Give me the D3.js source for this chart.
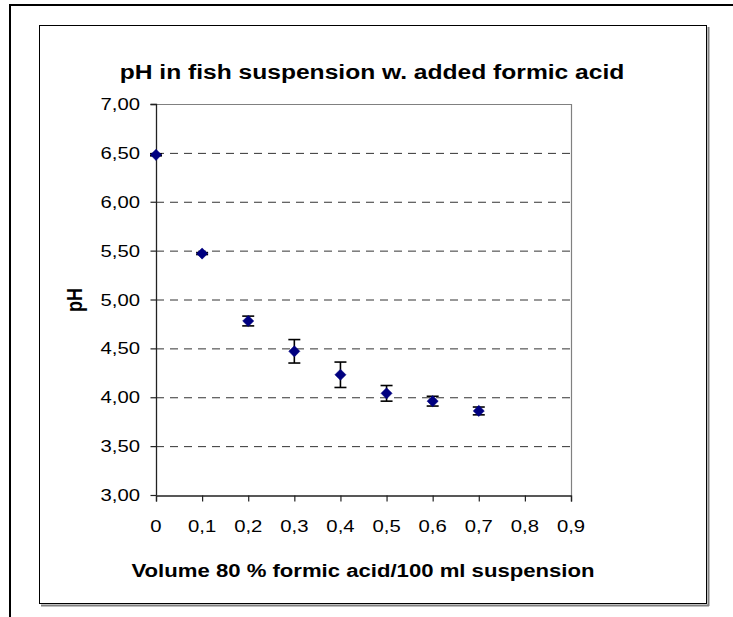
<!DOCTYPE html>
<html>
<head>
<meta charset="utf-8">
<script src="https://cdn.jsdelivr.net/npm/d3@7"></script>
<style>
  html, body { margin: 0; padding: 0; background: #fff; }
  svg { display: block; }
  text { font-family: "Liberation Sans", Arial, sans-serif; fill: #000; }
</style>
</head>
<body>
<script>
// ---- data ----
const volumes = [0, 0.1, 0.2, 0.3, 0.4, 0.5, 0.6, 0.7];
const phMeans = [6.48, 5.47, 4.78, 4.47, 4.23, 4.04, 3.96, 3.86];
const phErrors = [0.01, 0.01, 0.05, 0.12, 0.13, 0.08, 0.05, 0.04];
const xTickValues = [0, 0.1, 0.2, 0.3, 0.4, 0.5, 0.6, 0.7, 0.8, 0.9];
const yTickValues = [3, 3.5, 4, 4.5, 5, 5.5, 6, 6.5, 7];
const titleText = "pH in fish suspension w. added formic acid";
const xTitleText = "Volume 80 % formic acid/100 ml suspension";
const yTitleText = "pH";

// ---- layout ----
const W = 733, H = 617;
const SX = 1.23; // horizontal text stretch of the original picture
const plot = { left: 156, top: 104, right: 571, bottom: 495 };

const svg = d3.select("body").append("svg").attr("width", W).attr("height", H);
svg.append("rect").attr("width", W).attr("height", H).attr("fill", "#fff");

// outer frame (top + left visible)
svg.append("line").attr("x1", 10).attr("x2", W).attr("y1", 5).attr("y2", 5)
  .attr("stroke", "#000").attr("stroke-width", 2);
svg.append("line").attr("x1", 10).attr("x2", 10).attr("y1", 4).attr("y2", H)
  .attr("stroke", "#000").attr("stroke-width", 2);

// inner chart frame with shadow
svg.append("line").attr("x1", 708.5).attr("x2", 708.5).attr("y1", 27).attr("y2", 606)
  .attr("stroke", "#808080").attr("stroke-width", 2);
svg.append("line").attr("x1", 41).attr("x2", 709).attr("y1", 605.5).attr("y2", 605.5)
  .attr("stroke", "#808080").attr("stroke-width", 2);
svg.append("rect").attr("x", 39.5).attr("y", 25.5).attr("width", 667).attr("height", 578)
  .attr("fill", "#fff").attr("stroke", "#000").attr("stroke-width", 1);

const x = d3.scaleLinear().domain([0, 0.9]).range([plot.left, plot.right]);
const y = d3.scaleLinear().domain([3, 7]).range([plot.bottom, plot.top]);

const fmt = v => v === 0 ? "0" : d3.format(".1f")(v).replace(".", ",");
const fmtY = v => d3.format(".2f")(v).replace(".", ",");

function stretchedText(g, tx, ty, str, opts) {
  return g.append("text")
    .attr("transform", `translate(${tx},${ty}) scale(${SX},1)`)
    .attr("text-anchor", opts.anchor || "middle")
    .attr("font-size", opts.size)
    .attr("font-weight", opts.weight || "normal")
    .text(str);
}

// title
stretchedText(svg, 372, 79, titleText, { size: 20, weight: "bold" });

// gridlines
svg.append("g").selectAll("line").data(yTickValues.filter(v => v > 3 && v < 7)).join("line")
  .attr("x1", plot.left).attr("x2", plot.right)
  .attr("y1", d => y(d) + 0.5).attr("y2", d => y(d) + 0.5)
  .attr("stroke", "#333").attr("stroke-width", 1).attr("stroke-dasharray", "8,6");

// plot area border (top & right gray)
svg.append("path")
  .attr("d", `M${plot.left},${plot.top + 0.5}H${plot.right + 0.5}V${plot.bottom}`)
  .attr("fill", "none").attr("stroke", "#808080").attr("stroke-width", 1.2);

// axes
const yAxis = d3.axisLeft(y).tickValues(yTickValues).tickSize(6).tickFormat("");
const xAxis = d3.axisBottom(x).tickValues(xTickValues).tickSize(6).tickFormat("");
const gy = svg.append("g").attr("transform", `translate(${plot.left + 0.5},0)`).call(yAxis);
const gx = svg.append("g").attr("transform", `translate(0,${plot.bottom + 0.5})`).call(xAxis);
[gx, gy].forEach(g => {
  g.select(".domain").attr("stroke", "#222").attr("stroke-width", 1.3);
  g.selectAll(".tick line").attr("stroke", "#222").attr("stroke-width", 1.2);
});
gy.selectAll(".domain").attr("d", `M-6,${plot.top + 0.5}H0V${plot.bottom}`);

// tick labels
const yLab = svg.append("g");
yTickValues.forEach(v => {
  stretchedText(yLab, 140, y(v) + 6, fmtY(v), { size: 16.5, anchor: "end" });
});
const xLab = svg.append("g");
xTickValues.forEach(v => {
  stretchedText(xLab, x(v), 532, fmt(v), { size: 16.5 });
});

// axis titles
stretchedText(svg, 363, 577, xTitleText, { size: 18, weight: "bold" });
svg.append("text")
  .attr("transform", `translate(82,300) scale(${SX},1) rotate(-90)`)
  .attr("text-anchor", "middle")
  .attr("font-size", 18).attr("font-weight", "bold")
  .text(yTitleText);

// error bars
const pts = volumes.map((v, i) => ({ x: v, m: phMeans[i], e: phErrors[i] }));
const eb = svg.append("g").attr("stroke", "#000").attr("stroke-width", 1.6);
eb.selectAll("line.v").data(pts).join("line").attr("class", "v")
  .attr("x1", d => x(d.x)).attr("x2", d => x(d.x))
  .attr("y1", d => y(d.m - d.e)).attr("y2", d => y(d.m + d.e));
eb.selectAll("line.t").data(pts).join("line").attr("class", "t")
  .attr("x1", d => x(d.x) - 6).attr("x2", d => x(d.x) + 6)
  .attr("y1", d => y(d.m + d.e)).attr("y2", d => y(d.m + d.e));
eb.selectAll("line.b").data(pts).join("line").attr("class", "b")
  .attr("x1", d => x(d.x) - 6).attr("x2", d => x(d.x) + 6)
  .attr("y1", d => y(d.m - d.e)).attr("y2", d => y(d.m - d.e));

// markers
const diamond = d3.symbol().type(d3.symbolSquare).size(62);
svg.append("g").selectAll("path").data(pts).join("path")
  .attr("d", diamond)
  .attr("transform", d => `translate(${x(d.x)},${y(d.m)}) rotate(45)`)
  .attr("fill", "#000080").attr("stroke", "#000080").attr("stroke-width", 0.5);
</script>
</body>
</html>
